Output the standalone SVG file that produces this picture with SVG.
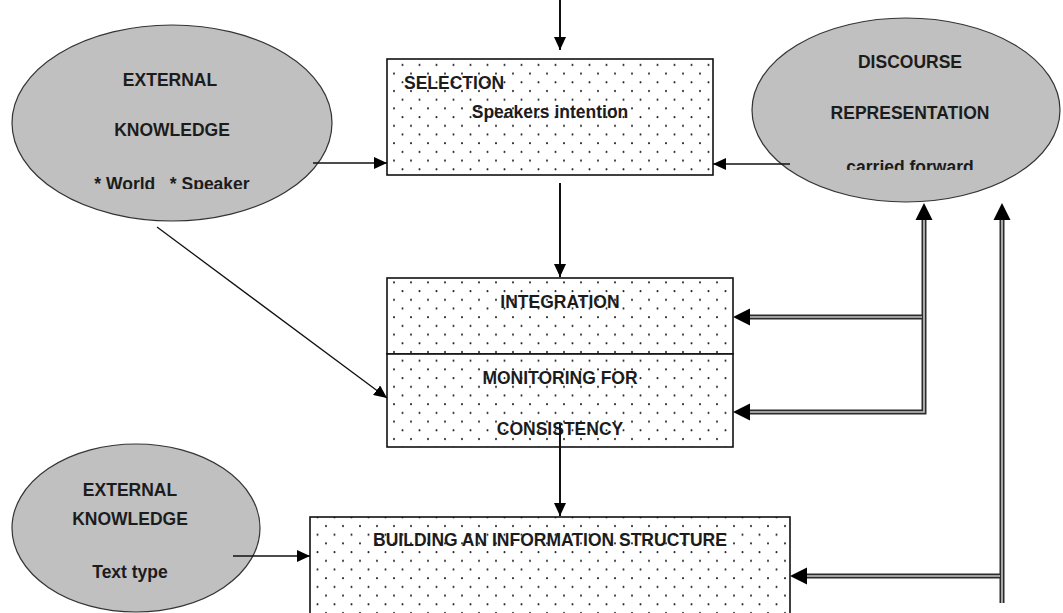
<svg xmlns="http://www.w3.org/2000/svg" width="1063" height="613" viewBox="0 0 1063 613">
<style>
.ell{fill:#c0c0c0;stroke:#333;stroke-width:1.2}
.box{fill:url(#dots);stroke:#111;stroke-width:1.6}
.t{font-family:"Liberation Sans",Arial,sans-serif;font-weight:bold;font-size:17.5px;fill:#1c1c1c;text-anchor:middle}
.ln{stroke:#111;fill:none}
.dbo{stroke:#2b2b2b;stroke-width:5;fill:none;stroke-linejoin:miter}
.dbi{stroke:#c8c8c8;stroke-width:1.6;fill:none;stroke-linejoin:miter}
.ah{fill:#000}
</style>
<defs>
<pattern id="dots" patternUnits="userSpaceOnUse" width="17" height="17.4">
<rect width="17" height="17.4" fill="#fff"/>
<circle cx="3" cy="4" r="1" fill="#222"/>
<circle cx="11.5" cy="12.7" r="1" fill="#222"/>
</pattern>
<marker id="arr" markerUnits="userSpaceOnUse" markerWidth="13" markerHeight="12" refX="13" refY="6" orient="auto">
<path d="M0,0 L13,6 L0,12 z" fill="#000"/>
</marker>
<clipPath id="c1"><rect x="0" y="0" width="400" height="189"/></clipPath>
<clipPath id="c2"><rect x="700" y="0" width="363" height="170"/></clipPath>
</defs>
<rect width="1063" height="613" fill="#fff"/>

<g id="ext-world">
<ellipse class="ell" cx="172" cy="123" rx="160" ry="98"/>
<text class="t" x="170" y="86">EXTERNAL</text>
<text class="t" x="172" y="136">KNOWLEDGE</text>
<text class="t" x="172" y="190" clip-path="url(#c1)" xml:space="preserve">* World   * Speaker</text>
</g>

<g id="discourse">
<ellipse class="ell" cx="906" cy="110" rx="154" ry="92"/>
<text class="t" x="910" y="68">DISCOURSE</text>
<text class="t" x="910" y="119">REPRESENTATION</text>
<text class="t" x="910" y="173" clip-path="url(#c2)">carried forward</text>
</g>

<g id="ext-text">
<ellipse class="ell" cx="136" cy="528" rx="124" ry="84"/>
<text class="t" x="130" y="496">EXTERNAL</text>
<text class="t" x="130" y="525">KNOWLEDGE</text>
<text class="t" x="130" y="578">Text type</text>
</g>

<g id="selection">
<rect class="box" x="387" y="59" width="326" height="116"/>
<text class="t" x="404" y="89" style="text-anchor:start">SELECTION</text>
<text class="t" x="550" y="118">Speakers intention</text>
</g>

<g id="integration">
<rect class="box" x="387" y="278" width="346" height="76"/>
<text class="t" x="560" y="308">INTEGRATION</text>
</g>

<g id="monitoring">
<rect class="box" x="387" y="354" width="346" height="93"/>
<text class="t" x="560" y="384">MONITORING  FOR</text>
<text class="t" x="560" y="435">CONSISTENCY</text>
</g>

<g id="building">
<rect class="box" x="310" y="517" width="480" height="110"/>
<text class="t" x="550" y="546">BUILDING AN INFORMATION STRUCTURE</text>
</g>

<g id="connectors">
<line class="ln" x1="560" y1="0" x2="560" y2="50" stroke-width="2" marker-end="url(#arr)"/>
<line class="ln" x1="560" y1="183" x2="560" y2="277" stroke-width="2" marker-end="url(#arr)"/>
<line class="ln" x1="560" y1="424" x2="560" y2="516" stroke-width="2" marker-end="url(#arr)"/>
<line class="ln" x1="313" y1="163" x2="387" y2="163" stroke-width="1.3" marker-end="url(#arr)"/>
<line class="ln" x1="790" y1="164" x2="713" y2="164" stroke-width="1.3" marker-end="url(#arr)"/>
<line class="ln" x1="157" y1="227" x2="387" y2="398" stroke-width="1.3" marker-end="url(#arr)"/>
<line class="ln" x1="233" y1="556" x2="310" y2="556" stroke-width="1.5" marker-end="url(#arr)"/>

<path class="dbo" d="M750,412 H924 V220"/>
<path class="dbo" d="M750,317 H924"/>
<path class="dbo" d="M1002,603 V220"/>
<path class="dbo" d="M807,576 H1002"/>
<path class="dbi" d="M750,412 H924 V220"/>
<path class="dbi" d="M750,317 H922"/>
<path class="dbi" d="M1002,603 V220"/>
<path class="dbi" d="M807,576 H1000"/>
<polygon class="ah" points="924,203 915.5,220 932.5,220"/>
<polygon class="ah" points="1002,203 993.5,220 1010.5,220"/>
<polygon class="ah" points="733,317 750,308.5 750,325.5"/>
<polygon class="ah" points="733,412 750,403.5 750,420.5"/>
<polygon class="ah" points="790,576 807,567.5 807,584.5"/>
</g>
</svg>
